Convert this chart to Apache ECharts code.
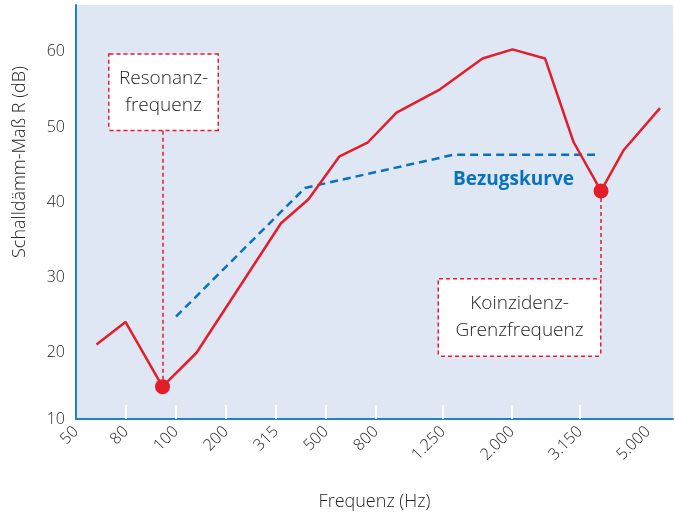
<!DOCTYPE html>
<html>
<head>
<meta charset="utf-8">
<script src="https://cdn.jsdelivr.net/npm/echarts@6/dist/echarts.min.js"></script>
<style>
  html, body { margin: 0; padding: 0; background: #ffffff; }
  #chart { width: 675px; height: 516px; }
</style>
</head>
<body>
<div id="chart"></div>
<script>
// Frequency axis: label text and its position along the axis (one unit = one step of the low-frequency labels)
const freqLabels = ['50', '80', '100', '200', '315', '500', '800', '1.250', '2.000', '3.150', '5.000'];
const freqLabelPos = [0, 1, 2, 3, 4, 5, 6, 7.34, 8.72, 10.08, 11.44];
const freqTickPos = [1, 2, 3, 4, 5, 6, 7.34, 8.72, 10.08];

// Sound reduction index axis
const dbMin = 11.2;
const dbMax = 66.2;
const dbLabelValues = [dbMin, 20, 30, 40, 50, 60];

// Measured sound reduction index R (dB)
const measuredPos = [0.41, 0.99, 1.73, 2.41, 4.10, 4.65, 5.27, 5.83, 6.41, 7.28, 8.13, 8.73, 9.38, 9.95, 10.5, 10.95, 11.68];
const measuredDb  = [21.1, 24.1, 15.5, 20.0, 37.2, 40.4, 46.1, 47.9, 51.9, 55.0, 59.1, 60.3, 59.1, 48.0, 41.5, 46.9, 52.5];

// Reference curve (Bezugskurve)
const referencePos = [2.0, 4.58, 7.55, 10.38];
const referenceDb  = [24.8, 41.9, 46.3, 46.3];

// Highlighted points: resonance frequency and coincidence frequency
const resonance = [1.73, 15.5];
const coincidence = [10.5, 41.5];

const RED = '#E31E2A';
const BLUE = '#0A72BA';
const AXIS_BLUE = '#1C82CC';
const TEXT = '#262626';
const FONT = '"Open Sans", "Noto Sans", sans-serif';

const chart = echarts.init(document.getElementById('chart'), null, { renderer: 'canvas' });

const calloutLabel = (text, width, padding) => ({
  show: true,
  position: 'inside',
  formatter: text,
  color: TEXT,
  fontFamily: FONT,
  fontWeight: 300,
  fontSize: 19,
  lineHeight: 27,
  align: 'center',
  width: width,
  padding: padding,
  backgroundColor: '#ffffff',
  borderColor: RED,
  borderWidth: 1.5,
  borderType: [4, 3]
});

chart.setOption({
  animation: false,
  grid: {
    left: 76, right: 2, top: 5, bottom: 97,
    outerBoundsMode: 'none',
    containLabel: false,
    show: true, backgroundColor: '#DEE7F3', borderWidth: 0
  },
  xAxis: {
    type: 'value',
    min: 0,
    max: 11.94,
    name: 'Frequenz (Hz)',
    nameLocation: 'middle',
    nameGap: 74,
    nameTextStyle: { color: TEXT, fontFamily: FONT, fontWeight: 300, fontSize: 18 },
    axisLine: { show: true, lineStyle: { color: AXIS_BLUE, width: 2 } },
    axisTick: {
      show: true, inside: true, length: 14,
      customValues: freqTickPos,
      lineStyle: { color: '#ffffff', width: 2 }
    },
    axisLabel: {
      show: true,
      customValues: freqLabelPos,
      rotate: 45,
      margin: 10,
      color: TEXT,
      fontFamily: FONT,
      fontWeight: 300,
      fontSize: 16,
      showMinLabel: true,
      showMaxLabel: true,
      formatter: (v) => {
        const i = freqLabelPos.findIndex(p => Math.abs(p - v) < 1e-6);
        return i >= 0 ? freqLabels[i] : '';
      }
    },
    splitLine: { show: false }
  },
  yAxis: {
    type: 'value',
    min: dbMin,
    max: dbMax,
    axisLine: { show: true, lineStyle: { color: AXIS_BLUE, width: 2 } },
    axisTick: { show: false },
    axisLabel: {
      show: true,
      customValues: dbLabelValues,
      margin: 11,
      color: TEXT,
      fontFamily: FONT,
      fontWeight: 300,
      fontSize: 16,
      showMinLabel: true,
      formatter: (v) => (v === dbMin ? '10' : String(v))
    },
    splitLine: { show: false }
  },
  graphic: [{
    type: 'text',
    x: 20, y: 162,
    rotation: Math.PI / 2,
    style: {
      text: 'Schalldämm-Maß R (dB)',
      fill: TEXT,
      font: '300 18px ' + FONT,
      textAlign: 'center',
      textVerticalAlign: 'middle'
    }
  }],
  series: [
    {
      name: 'Bezugskurve',
      type: 'line',
      data: referencePos.map((x, i) => [x, referenceDb[i]]),
      symbol: 'none',
      lineStyle: { color: BLUE, width: 2.5, type: [8, 5] },
      z: 2,
      markPoint: {
        silent: true,
        symbol: 'rect',
        symbolSize: 0,
        data: [{
          coord: [8.75, 43.0],
          label: {
            show: true, position: 'inside', formatter: 'Bezugskurve',
            color: BLUE, fontFamily: FONT, fontSize: 19, fontWeight: 'bold'
          }
        }]
      }
    },
    {
      name: 'Schalldämm-Maß',
      type: 'line',
      data: measuredPos.map((x, i) => [x, measuredDb[i]]),
      symbol: 'none',
      lineStyle: { color: RED, width: 2.5 },
      z: 3
    },
    {
      name: 'Kennfrequenzen',
      type: 'scatter',
      data: [resonance, coincidence],
      symbol: 'circle',
      symbolSize: 15,
      itemStyle: { color: RED, opacity: 1 },
      z: 5,
      markLine: {
        silent: true,
        symbol: ['none', 'none'],
        label: { show: false },
        lineStyle: { color: RED, width: 1.5, type: [4, 3], opacity: 1 },
        data: [
          [{ coord: [resonance[0], resonance[1]] }, { coord: [resonance[0], 49.9] }],
          [{ coord: [coincidence[0], coincidence[1]] }, { coord: [coincidence[0], 29.9] }]
        ]
      },
      markPoint: {
        silent: true,
        symbol: 'rect',
        symbolSize: 0,
        data: [
          { coord: [1.75, 54.6], label: calloutLabel('Resonanz-\nfrequenz', 108, [12, 0, 9, 0]) },
          { coord: [8.87, 24.7], label: calloutLabel('Koinzidenz-\nGrenzfrequenz', 161, [12, 0, 10, 0]) }
        ]
      }
    }
  ]
});
</script>
</body>
</html>
